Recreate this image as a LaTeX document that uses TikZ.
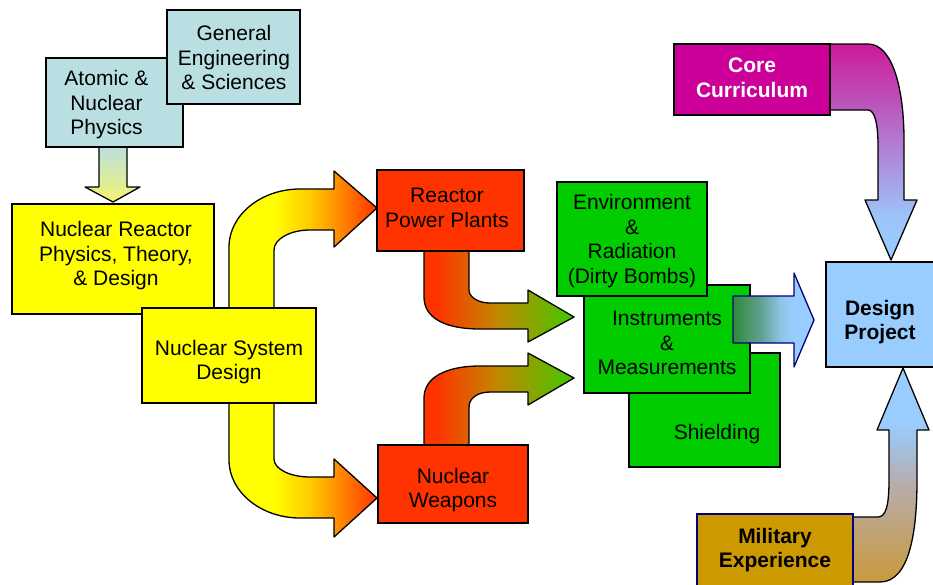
\documentclass[tikz,border=0pt]{standalone}
\usepackage{fontspec}
\setmainfont{Liberation Sans}
\definecolor{nscyan}{HTML}{B9DFE2}
\definecolor{nsyellow}{HTML}{FFFF00}
\definecolor{nsamber}{HTML}{FFCC00}
\definecolor{nsorange}{HTML}{FF9900}
\definecolor{nsred}{HTML}{FF3300}
\definecolor{nsolive}{HTML}{C08A00}
\definecolor{nsgreen}{HTML}{00CC00}
\definecolor{nslime}{HTML}{40C800}
\definecolor{nsteal}{HTML}{2F8A3A}
\definecolor{nssea}{HTML}{60A090}
\definecolor{nssky}{HTML}{8CC4E4}
\definecolor{nsblue}{HTML}{99CCFF}
\definecolor{nslav}{HTML}{9DC4FA}
\definecolor{nsmagenta}{HTML}{CC0099}
\definecolor{nspink}{HTML}{CC1A99}
\definecolor{nsgold}{HTML}{CC9900}
\definecolor{nstan}{HTML}{C99A3C}
\definecolor{nsgrey}{HTML}{B8ACA8}
\definecolor{nspale}{HTML}{F4F470}
\definecolor{nsnavy}{HTML}{000080}
\pgfdeclarehorizontalshading{yelred}{100bp}{color(0bp)=(nsyellow); color(40bp)=(nsyellow); color(52bp)=(nsamber); color(60bp)=(nsorange); color(75bp)=(nsred); color(100bp)=(nsred)}
\pgfdeclarehorizontalshading{redgreen}{100bp}{color(0bp)=(nsred); color(29bp)=(nsred); color(50bp)=(nsolive); color(75bp)=(nslime); color(100bp)=(nslime)}
\pgfdeclarehorizontalshading{greenblue}{100bp}{color(0bp)=(nsteal); color(25bp)=(nsteal); color(42bp)=(nssea); color(54bp)=(nssky); color(62bp)=(nsblue); color(100bp)=(nsblue)}
\pgfdeclareverticalshading{pinkblue}{100bp}{color(0bp)=(nsblue); color(25bp)=(nsblue); color(35bp)=(nslav); color(75bp)=(nspink); color(100bp)=(nspink)}
\pgfdeclareverticalshading{goldblue}{100bp}{color(0bp)=(nstan); color(25bp)=(nstan); color(47bp)=(nsgrey); color(62bp)=(nsblue); color(100bp)=(nsblue)}
\tikzset{
  box/.style={draw, line width=1.3pt, inner sep=0pt},
  txt/.style={align=center, inner sep=0pt, font=\fontsize{21}{24.5}\selectfont},
  btxt/.style={txt, font=\fontsize{21}{24.5}\selectfont\bfseries},
  flow/.style={draw, line width=1.3pt, line join=round},
}
\begin{document}
\begin{tikzpicture}[x=1pt,y=-1pt]
	\useasboundingbox (0,0) rectangle (933,584);
	% physics feeds the reactor box
	\path[flow, top color=nscyan, bottom color=nspale] (99,145)--(99,187)--(85,187)--(113,202)--(140,187)--(127,187)--(127,145)--cycle;
	\node[box, fill=nscyan, minimum width=137pt, minimum height=89pt] (atomic) at (114.5,102.5) {};
	\node[txt] (atomictxt) at (106.5,105) {Atomic \&\\Nuclear\\Physics};
	\node[box, fill=nscyan, minimum width=133pt, minimum height=94pt] (general) at (233.5,57) {};
	\node[txt] (generaltxt) at (234,57.5) {General\\Engineering\\\& Sciences};
	\node[box, fill=nsyellow, minimum width=202pt, minimum height=110pt] (reactor) at (113,259) {};
	\node[txt] (reactortxt) at (116,256) {Nuclear Reactor\\Physics, Theory,\\\& Design};
	% system design splits up and down
	\path[flow, shade, shading=yelred] (229,320)--(229,247) .. controls (229,215) and (261,189) .. (300,189)--(334,189)--(334,171)--(377,208)--(334,247)--(334,230)--(310,230) .. controls (290,230) and (274,239) .. (274,250)--(274,320)--cycle;
	\path[flow, shade, shading=yelred] (229,395)--(229,460) .. controls (229,492) and (261,518) .. (300,518)--(334,518)--(334,537)--(377,498)--(334,459)--(334,477)--(310,477) .. controls (290,477) and (274,469) .. (274,459)--(274,395)--cycle;
	% both branches feed the green boxes
	\path[flow, shade, shading=redgreen] (424,245)--(424,297) .. controls (424,318) and (445,329) .. (480,329)--(528,329)--(528,342)--(574,317)--(528,290)--(528,303)--(490,303) .. controls (478,303) and (469,297) .. (469,290)--(469,245)--cycle;
	\path[flow, shade, shading=redgreen] (469,455)--(469,407) .. controls (469,398) and (478,392) .. (490,392)--(528,392)--(528,405)--(574,378)--(528,353)--(528,366)--(480,366) .. controls (445,366) and (424,378) .. (424,398)--(424,455)--cycle;
	\node[box, fill=nsyellow, minimum width=174pt, minimum height=95pt] (system) at (229,355.5) {};
	\node[txt] (systemtxt) at (229,362) {Nuclear System\\Design};
	\node[box, fill=nsred, minimum width=147pt, minimum height=81pt] (plants) at (450.5,210.5) {};
	\node[txt] (plantstxt) at (447,208) {Reactor\\Power Plants};
	\node[box, fill=nsred, minimum width=150pt, minimum height=78pt] (weapons) at (453,484) {};
	\node[txt] (weaponstxt) at (453,490) {Nuclear\\Weapons};
	% green stack
	\node[box, fill=nsgreen, minimum width=151pt, minimum height=114pt] (shield) at (704.5,410) {};
	\node[txt] (shieldtxt) at (717,434) {Shielding};
	\node[box, fill=nsgreen, minimum width=166pt, minimum height=108pt] (instr) at (667,339) {};
	\node[txt] (instrtxt) at (667,343) {Instruments\\\&\\Measurements};
	\node[box, fill=nsgreen, minimum width=150pt, minimum height=114pt] (env) at (632,239) {};
	\node[txt] (envtxt) at (632,241) {Environment\\\&\\Radiation\\(Dirty Bombs)};
	\path[flow, draw=nsnavy, shade, shading=greenblue] (733,296)--(794,296)--(794,273)--(814,320)--(794,367)--(794,343)--(733,343)--cycle;
	% side inputs to the project
	\path[flow, shade, shading=pinkblue] (826,44)--(868,44) .. controls (893,44) and (904,90) .. (904,140)--(904,200)--(917,200)--(891,260)--(865,200)--(878,200)--(878,145) .. controls (878,125) and (875,110) .. (868,110)--(826,110)--cycle;
	\path[flow, shade, shading=goldblue] (849,517)--(878,517) .. controls (886,517) and (889,505) .. (889,480)--(889,430)--(877,430)--(903,368)--(929,430)--(917,430)--(917,480) .. controls (917,530) and (910,582) .. (880,582)--(849,582)--cycle;
	\node[box, fill=nsblue, minimum width=114pt, minimum height=105pt] (design) at (883,314.5) {};
	\node[btxt] (designtxt) at (880,322) {Design\\Project};
	\node[box, fill=nsmagenta, minimum width=156pt, minimum height=71pt] (core) at (752,79.5) {};
	\node[btxt, text=white] (coretxt) at (752,78) {Core\\Curriculum};
	\node[box, draw=nsnavy, fill=nsgold, minimum width=156pt, minimum height=72pt] (military) at (775,550) {};
	\node[btxt] (militarytxt) at (775,550) {Military\\Experience};
\end{tikzpicture}
\end{document}
